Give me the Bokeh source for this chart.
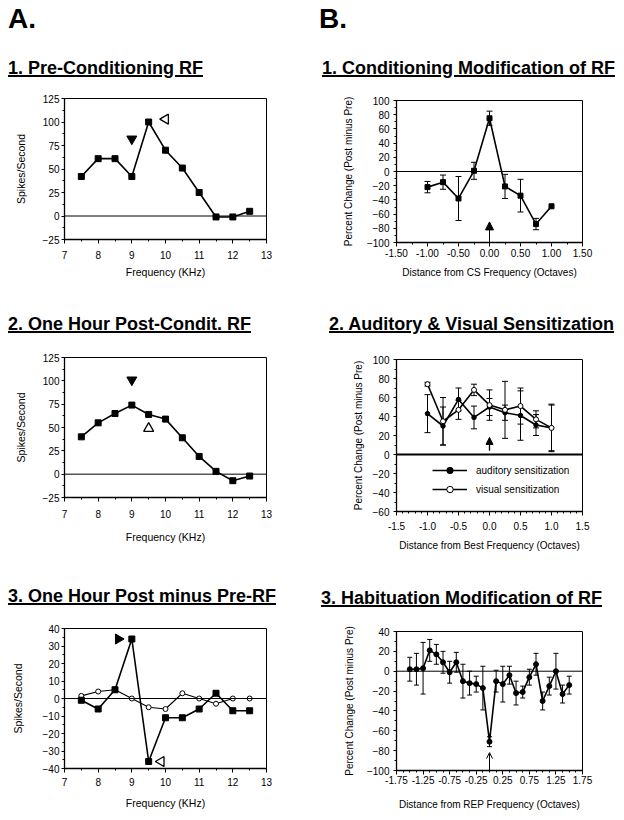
from math import pi
import numpy as np
from bokeh.plotting import figure
from bokeh.models import (Span, Whisker, ColumnDataSource, Arrow, NormalHead, OpenHead,
                          TeeHead, SingleIntervalTicker, FixedTicker, NumeralTickFormatter,
                          Div, Legend, LegendItem, Range1d, Spacer)
from bokeh.layouts import column, row
from bokeh.embed import file_html
from bokeh.resources import INLINE

FONT = "Liberation Sans"

# ---------------- data ----------------
# Column A: frequency receptive fields (spikes/second)
freq_khz = [7.5, 8.0, 8.5, 9.0, 9.5, 10.0, 10.5, 11.0, 11.5, 12.0, 12.5]
pre_cond_rf = [42, 61, 61, 42, 100, 70, 51, 25, -1, -1, 5]
post_cond_rf = [40, 55, 65, 74, 64, 59, 39, 19, 3, -7, -2]
post_minus_pre = [-1, -6, 5, 34, -36, -11, -11, -6, 3, -7, -7]
post_minus_pre_open = [1.5, 4, 5, 0, -5, -6, 3, 0, -3, 0, 0]

# triangle markers: filled = CS frequency, open = best frequency
a1_cs_x, a1_cs_y = [9.0], [82]
a1_bf_x, a1_bf_y = [10.0], [103]
a2_cs_x, a2_cs_y = [9.0], [101]
a2_bf_x, a2_bf_y = [9.5], [49]
a3_cs_x, a3_cs_y = [8.6], [34]
a3_bf_x, a3_bf_y = [9.87], [-36]

# Column B
cs_octaves = [-1.0, -0.75, -0.5, -0.25, 0.0, 0.25, 0.5, 0.75, 1.0]
cond_change = [-22, -15, -38, 1, 75, -21, -34, -74, -49]
cond_err = [8, 10, 31, 12, 10, 17, 23, 8, 0]

bf_octaves = [-1.0, -0.75, -0.5, -0.25, 0.0, 0.25, 0.5, 0.75, 1.0]
aud_change = [43, 30, 58, 39, 50, 44, 41, 31, 28]
aud_err = [20, 20, 12, 12, 9, 8, 26, 11, 25]
vis_change = [74, 35, 47, 68, 52, 47, 51, 37, 28]
vis_err = [2, 25, 10, 6, 16, 30, 19, 9, 24]

rep_octaves = [-1.5, -1.375, -1.25, -1.125, -1.0, -0.875, -0.75, -0.625, -0.5,
               -0.375, -0.25, -0.125, 0.0, 0.125, 0.25, 0.375, 0.5, 0.625,
               0.75, 0.875, 1.0, 1.125, 1.25, 1.375, 1.5]
hab_change = [2, 2, 3, 21, 17, 9, -1, 9, -10, -12, -13, -17, -71, -10, -13,
              -4, -22, -21, -6, 7, -30, -15, 0, -23, -14]
hab_err = [12, 16, 26, 11, 10, 11, 11, 10, 17, 12, 8, 22, 5, 11, 18, 9, 12,
           6, 8, 11, 9, 9, 18, 9, 9]

# arrows marking CS / best / REP frequency (x, y_start, y_end)
b1_arrow = [0.0, -100, -71]
b2_arrow = [0.0, 4, 18]
b3_arrow = [0.0, -100, -82]

b3_xticks = [-1.75, -1.25, -0.75, -0.25, 0.25, 0.75, 1.25, 1.75]
b3_minor = [-1.75 + 0.125 * i for i in range(29)]


# ---------------- helpers ----------------
def make_fig(width, height, left, right, top, bottom, xr, yr):
    p = figure(width=width, height=height, x_range=Range1d(*xr), y_range=Range1d(*yr),
               output_backend="svg", toolbar_location=None,
               min_border_left=left, min_border_right=right,
               min_border_top=top, min_border_bottom=bottom)
    p.xgrid.visible = False
    p.ygrid.visible = False
    p.outline_line_color = "black"
    p.outline_line_width = 1
    p.outline_line_alpha = 1
    p.background_fill_color = "white"
    p.border_fill_color = "white"
    for ax in (p.xaxis[0], p.yaxis[0]):
        ax.axis_line_width = 1.3
        ax.axis_line_color = "black"
        ax.major_tick_in = 0
        ax.major_tick_out = 4
        ax.minor_tick_in = 0
        ax.minor_tick_out = 2
        ax.major_tick_line_color = "black"
        ax.minor_tick_line_color = "black"
        ax.major_label_text_font = FONT
        ax.major_label_text_font_size = "10px"
        ax.major_label_text_color = "black"
        ax.axis_label_text_font = FONT
        ax.axis_label_text_font_style = "normal"
        ax.axis_label_text_color = "black"
        ax.axis_label_text_font_size = "10.5px"
    p.yaxis[0].major_tick_out = 3
    p.add_layout(Span(location=0, dimension="width", line_color="black", line_width=1))
    return p


def set_axis(p, xlabel, ylabel, x_standoff, x_lab_standoff, y_standoff, y_lab_standoff):
    p.xaxis[0].axis_label = xlabel
    p.yaxis[0].axis_label = ylabel
    p.xaxis[0].major_label_standoff = x_standoff
    p.xaxis[0].axis_label_standoff = x_lab_standoff
    p.yaxis[0].major_label_standoff = y_standoff
    p.yaxis[0].axis_label_standoff = y_lab_standoff


def whiskers(p, xs, ys, errs, size=6):
    xs2 = [x for x, e in zip(xs, errs) if e > 0]
    up = [y + e for y, e in zip(ys, errs) if e > 0]
    lo = [y - e for y, e in zip(ys, errs) if e > 0]
    src = ColumnDataSource(dict(x=xs2, upper=up, lower=lo))
    w = Whisker(base="x", upper="upper", lower="lower", source=src, dimension="height",
                line_color="black", line_width=1,
                upper_head=TeeHead(size=size, line_color="black", line_width=1),
                lower_head=TeeHead(size=size, line_color="black", line_width=1))
    p.add_layout(w)


def title_div(txt, w, h, pad_left=0, size=18):
    html = ('<div style="font-family:\'Liberation Sans\',Arial,sans-serif;font-weight:bold;'
            f'font-size:{size}px;line-height:21px;text-decoration:underline;'
            f'text-decoration-thickness:1.5px;white-space:nowrap;padding-left:{pad_left}px;'
            'color:black;">' + txt + '</div>')
    return Div(text=html, width=w, height=h, margin=(0, 0, 0, 0))


def header_div(txt, w, h, pad_left=0):
    html = ('<div style="font-family:\'Liberation Sans\',Arial,sans-serif;font-weight:bold;'
            f'font-size:28px;line-height:22px;white-space:nowrap;padding-left:{pad_left}px;'
            'color:black;">' + txt + '</div>')
    return Div(text=html, width=w, height=h, margin=(0, 0, 0, 0))


LW = 1.6

# ---------------- A1 ----------------
a1 = make_fig(308, 234, 56, 48, 18, 75, (7, 13), (-25, 125))
a1.xaxis[0].ticker = SingleIntervalTicker(interval=1, num_minor_ticks=2)
a1.yaxis[0].ticker = SingleIntervalTicker(interval=25, num_minor_ticks=2)
set_axis(a1, "Frequency (KHz)", "Spikes/Second", 7, 4, 2, 13)
a1.line(freq_khz, pre_cond_rf, line_color="black", line_width=LW)
a1.scatter(freq_khz, pre_cond_rf, marker="square", size=6, color="black")
a1.scatter(a1_cs_x, a1_cs_y, marker="inverted_triangle", size=10, color="black")
a1.scatter(a1_bf_x, a1_bf_y, marker="triangle", angle=pi / 2, size=10,
           fill_color="white", line_color="black", line_width=1.3)

# ---------------- A2 ----------------
a2 = make_fig(308, 250, 56, 50, 21, 89, (7, 13), (-25, 125))
a2.xaxis[0].ticker = SingleIntervalTicker(interval=1, num_minor_ticks=2)
a2.yaxis[0].ticker = SingleIntervalTicker(interval=25, num_minor_ticks=2)
set_axis(a2, "Frequency (KHz)", "Spikes/Second", 8, 10, 2, 13)
a2.line(freq_khz, post_cond_rf, line_color="black", line_width=LW)
a2.scatter(freq_khz, post_cond_rf, marker="square", size=6, color="black")
a2.scatter(a2_cs_x, a2_cs_y, marker="inverted_triangle", size=10, color="black")
a2.scatter(a2_bf_x, a2_bf_y, marker="triangle", size=10,
           fill_color="white", line_color="black", line_width=1.3)

# ---------------- A3 ----------------
a3 = make_fig(308, 204, 54, 50, 20, 44, (7, 13), (-40, 40))
a3.xaxis[0].ticker = SingleIntervalTicker(interval=1, num_minor_ticks=2)
a3.yaxis[0].ticker = SingleIntervalTicker(interval=10, num_minor_ticks=2)
set_axis(a3, "Frequency (KHz)", "Spikes/Second", 5, 8, 2, 16)
a3.line(freq_khz, post_minus_pre_open, line_color="black", line_width=1.1)
a3.scatter(freq_khz, post_minus_pre_open, marker="circle", size=5,
           fill_color="white", line_color="black", line_width=1)
a3.line(freq_khz, post_minus_pre, line_color="black", line_width=LW)
a3.scatter(freq_khz, post_minus_pre, marker="square", size=6, color="black")
a3.scatter(a3_cs_x, a3_cs_y, marker="triangle", angle=-pi / 2, size=10, color="black")
a3.scatter(a3_bf_x, a3_bf_y, marker="triangle", angle=pi / 2, size=10,
           fill_color="white", line_color="black", line_width=1.3)

# ---------------- B1 ----------------
b1 = make_fig(302, 234, 80, 21, 20, 72, (-1.5, 1.5), (-100, 100))
b1.xaxis[0].ticker = SingleIntervalTicker(interval=0.5, num_minor_ticks=2)
b1.yaxis[0].ticker = SingleIntervalTicker(interval=20, num_minor_ticks=2)
b1.xaxis[0].formatter = NumeralTickFormatter(format="0.00")
set_axis(b1, "Distance from CS Frequency (Octaves)", "Percent Change (Post minus Pre)", 2, 7, 4, 10)
b1.xaxis[0].axis_label_text_font_size = "10px"
b1.yaxis[0].axis_label_text_font_size = "10px"
whiskers(b1, cs_octaves, cond_change, cond_err)
b1.line(cs_octaves, cond_change, line_color="black", line_width=LW)
b1.scatter(cs_octaves, cond_change, marker="square", size=5, color="black")
b1.add_layout(Arrow(x_start=b1_arrow[0], y_start=b1_arrow[1], x_end=b1_arrow[0], y_end=b1_arrow[2],
                    line_color="black", line_width=1,
                    end=NormalHead(size=8, fill_color="black", line_color="black")))

# ---------------- B2 ----------------
b2 = make_fig(302, 252, 75, 20, 23, 77, (-1.5, 1.5), (-60, 100))
b2.renderers = []
b2.add_layout(Span(location=0, dimension="width", line_color="black", line_width=2))
b2.xaxis[0].ticker = SingleIntervalTicker(interval=0.5, num_minor_ticks=5)
b2.yaxis[0].ticker = SingleIntervalTicker(interval=20, num_minor_ticks=2)
b2.xaxis[0].formatter = NumeralTickFormatter(format="0.0")
set_axis(b2, "Distance from Best Frequency (Octaves)", "Percent Change (Post minus Pre)", 6, 7, 4, 6)
b2.xaxis[0].axis_label_text_font_size = "10px"
b2.yaxis[0].axis_label_text_font_size = "10px"
whiskers(b2, bf_octaves, aud_change, aud_err)
whiskers(b2, bf_octaves, vis_change, vis_err)
l_aud = b2.line(bf_octaves, aud_change, line_color="black", line_width=LW)
s_aud = b2.scatter(bf_octaves, aud_change, marker="circle", size=4.5, color="black")
l_vis = b2.line(bf_octaves, vis_change, line_color="black", line_width=LW)
s_vis = b2.scatter(bf_octaves, vis_change, marker="circle", size=5,
                   fill_color="white", line_color="black", line_width=1)
b2.add_layout(Arrow(x_start=b2_arrow[0], y_start=b2_arrow[1], x_end=b2_arrow[0], y_end=b2_arrow[2],
                    line_color="black", line_width=1.3,
                    end=NormalHead(size=7, fill_color="black", line_color="black")))
legend = Legend(items=[LegendItem(label="auditory sensitization", renderers=[l_aud, s_aud]),
                       LegendItem(label="visual sensitization", renderers=[l_vis, s_vis])],
                location=(36, 14), border_line_color=None, background_fill_alpha=0,
                padding=0, margin=0, spacing=3, glyph_width=35, glyph_height=16,
                label_height=16, label_standoff=9, label_text_font=FONT,
                label_text_font_size="10px", label_text_color="black")
b2.add_layout(legend)

# ---------------- B3 ----------------
b3 = make_fig(302, 202, 75, 36, 21, 41, (-1.75, 1.75), (-100, 40))
b3.xaxis[0].ticker = FixedTicker(ticks=b3_xticks, minor_ticks=b3_minor)
b3.yaxis[0].ticker = SingleIntervalTicker(interval=20, num_minor_ticks=2)
b3.xaxis[0].formatter = NumeralTickFormatter(format="0.00")
set_axis(b3, "Distance from REP Frequency (Octaves)", "Percent Change (Post minus Pre)", 1, 12, 4, 9)
b3.xaxis[0].axis_label_text_font_size = "10px"
b3.yaxis[0].axis_label_text_font_size = "10px"
whiskers(b3, rep_octaves, hab_change, hab_err, size=5)
b3.line(rep_octaves, hab_change, line_color="black", line_width=LW)
b3.scatter(rep_octaves, hab_change, marker="circle", size=5, color="black")
b3.add_layout(Arrow(x_start=b3_arrow[0], y_start=b3_arrow[1], x_end=b3_arrow[0], y_end=b3_arrow[2],
                    line_color="black", line_width=1,
                    end=OpenHead(size=6, line_color="black", line_width=1)))

# ---------------- layout ----------------
left = column(
    header_div("A.", 308, 50, 0),
    title_div("1. Pre-Conditioning RF", 308, 22, 0),
    a1,
    title_div("2. One Hour Post-Condit. RF", 308, 22, 0),
    a2,
    title_div("3. One Hour Post minus Pre-RF", 308, 22, 0),
    a3,
)
right = column(
    header_div("B.", 302, 50, 3),
    title_div("1. Conditioning Modification of RF", 302, 22, 6),
    b1,
    title_div("2. Auditory &amp; Visual Sensitization", 302, 22, 13),
    b2,
    title_div("3. Habituation Modification of RF", 302, 22, 5),
    b3,
)
page = column(Spacer(width=8, height=8), row(Spacer(width=8, height=10), left, right))

open("out.html", "w").write(file_html(page, INLINE))
